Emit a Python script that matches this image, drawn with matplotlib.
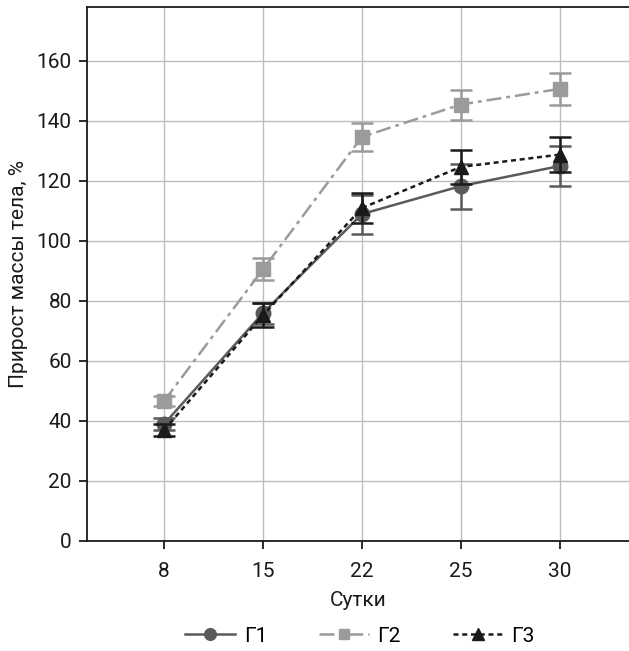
import matplotlib
matplotlib.use('Agg')
import matplotlib.pyplot as plt
from matplotlib.lines import Line2D
import numpy as np

plt.rcParams['font.family'] = ['Roboto', 'DejaVu Sans']

days = ['8', '15', '22', '25', '30']
g1 = [39, 76, 109, 118.3, 125]
g1_err = [2, 3.5, 6.5, 7.5, 6.7]
g2 = [46.7, 90.6, 134.7, 145.5, 150.7]
g2_err = [1.8, 3.6, 4.6, 5, 5.3]
g3 = [37, 75.3, 111, 124.7, 128.8]
g3_err = [1.9, 4, 4.9, 5.7, 5.8]
labels = ['Г1', 'Г2', 'Г3']

colors = ['#5a5a5a', '#9b9b9b', '#1a1a1a']
styles = ['-', (0, (6, 2, 1.5, 2)), (0, (2, 1.5))]
markers = ['o', 's', '^']
sizes = [10.5, 9.5, 10.5]

x = np.arange(len(days))

fig = plt.figure(figsize=(6.29, 6.51), dpi=100)
ax = fig.add_axes([87 / 629, 1 - 541 / 651, 542 / 629, 534 / 651])

for i, (vals, errs) in enumerate([(g1, g1_err), (g2, g2_err), (g3, g3_err)]):
    ax.errorbar(x, vals, yerr=errs, color=colors[i], linestyle=styles[i],
                linewidth=1.8, marker=markers[i], markersize=sizes[i],
                capsize=8, elinewidth=1.8, capthick=1.8, zorder=3 + i)

ax.set_xlim(-0.78, 4.7)
ax.set_ylim(0, 178)
ax.set_xticks(x)
ax.set_xticklabels(days)
ax.set_yticks(np.arange(0, 161, 20))
ax.grid(True, color='#bdbdbd', linewidth=1.0)
ax.set_axisbelow(True)
for s in ['left', 'bottom', 'top']:
    ax.spines[s].set_color('#1a1a1a')
    ax.spines[s].set_linewidth(1.3)
ax.spines['right'].set_visible(False)
ax.tick_params(labelsize=15, length=6, width=1.3, color='#1a1a1a',
               labelcolor='#1a1a1a')
ax.tick_params(axis='x', pad=9)
ax.tick_params(axis='y', pad=5)
ax.set_xlabel('Сутки', fontsize=15, color='#1a1a1a', labelpad=7)
ax.set_ylabel('Прирост массы тела, %', fontsize=15, color='#1a1a1a', labelpad=6)

handles = [Line2D([], [], color=colors[i], linestyle=styles[i], linewidth=1.8,
                  marker=markers[i], markersize=sizes[i] * 0.8) for i in range(3)]
fig.legend(handles, labels, loc='center', bbox_to_anchor=(360 / 629, 1 - 636 / 651),
           ncol=3, frameon=False, fontsize=15, handlelength=2.4,
           columnspacing=2.5, handletextpad=0.4)

fig.savefig('out.png', dpi=100)
